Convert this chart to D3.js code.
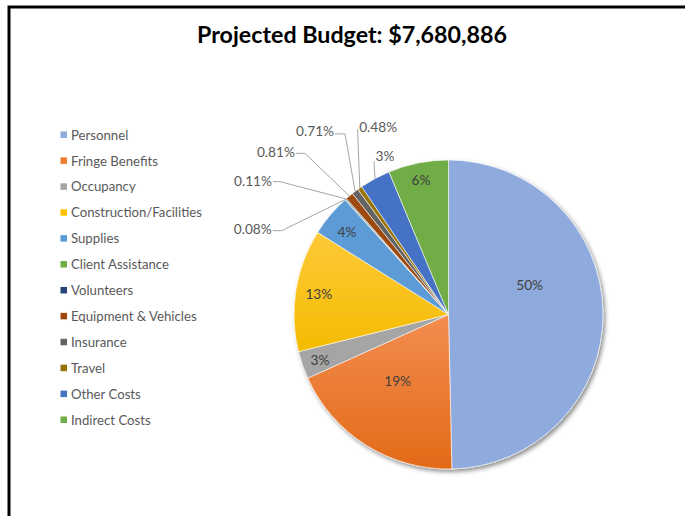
<!DOCTYPE html>
<html><head><meta charset="utf-8">
<script src="https://cdn.jsdelivr.net/npm/d3@7"></script>
<style>html,body{margin:0;padding:0;background:#fff;overflow:hidden}</style>
</head><body><svg id="c" width="685" height="516"></svg>
<script>
const title = "Projected Budget: $7,680,886";
const categories = ["Personnel","Fringe Benefits","Occupancy","Construction/Facilities","Supplies","Client Assistance","Volunteers","Equipment & Vehicles","Insurance","Travel","Other Costs","Indirect Costs"];
const values = [49.7, 18.6, 2.9, 12.8, 4.4, 0.08, 0.11, 0.81, 0.71, 0.48, 3.2, 6.3];
const colors = ["#8FAADC","#ED7D31","#A5A5A5","#FFC000","#5B9BD5","#70AD47","#264478","#9E480E","#636363","#997300","#4472C4","#70AD47"];
const gradients = {1:["#F38D4F","#E26A18"], 3:["#FFC93A","#F3BC00"]};

// label layout: inside labels [radius factor, position within slice]
const insideLayout = {0:[0.56,0.39], 1:[0.54,0.58], 2:[0.88,0.5], 3:[0.85,0.5], 4:[0.85,0.46], 11:[0.89,0.49]};
// outside labels [elbow angle deg, elbow distance factor, segment, anchor, dy]
const outsideLayout = {5:[296.7,1.208,9,"end",-2], 6:[308.25,1.389,7,"end",-1], 7:[318.3,1.397,9,"end",-1.5], 8:[330.2,1.347,10,"end",-3], 9:[333.9,1.337,0,"start",-2.5], 10:[334.1,1.104,0,"start",-6]};

const FONT = "Lato, 'Open Sans', sans-serif";
const svg = d3.select("#c");
const W = 685, H = 516;
svg.append("rect").attr("width",W).attr("height",H).attr("fill","#fff");

// frame
svg.append("path").attr("d",`M9,${H+5}V7H${W+5}`).attr("fill","none").attr("stroke","#000").attr("stroke-width",3);

// title
const t = svg.append("text").attr("x",352).attr("y",43).attr("text-anchor","middle")
  .attr("font-family",FONT).attr("font-weight","bold").attr("font-size",20).attr("fill","#000").text(title);
{ const w = t.node().getComputedTextLength(); t.attr("font-size", 20*310/w); }

const total = d3.sum(values);
const fmt = v => { const p = v/total*100; return p < 1 ? p.toFixed(2)+"%" : Math.round(p)+"%"; };
const pctLabels = values.map(fmt);

// legend
const lg = svg.append("g");
const rowY = d3.scalePoint().domain(d3.range(categories.length)).range([135, 420]);
const items = lg.selectAll("g").data(categories).join("g").attr("transform",(d,i)=>`translate(0,${rowY(i)})`);
items.append("rect").attr("x",60.5).attr("y",-3.5).attr("width",6.5).attr("height",6.5).attr("fill",(d,i)=>colors[i]);
const lt = items.append("text").attr("x",71).attr("dy","0.35em").attr("font-family",FONT).attr("font-size",12).attr("fill","#595959").text(d=>d);
{ const w = lt.filter((d,i)=>i===3).node().getComputedTextLength(); lt.attr("font-size", 12*131/w); }

// pie
const cx = 448.5, cy = 314.5, R = 154.5;
const defs = svg.append("defs");
const f = defs.append("filter").attr("id","sh").attr("x","-20%").attr("y","-20%").attr("width","140%").attr("height","140%");
f.append("feDropShadow").attr("dx",2).attr("dy",2.5).attr("stdDeviation",2.2).attr("flood-color","#000").attr("flood-opacity",0.45);
Object.entries(gradients).forEach(([i,c])=>{
  const g = defs.append("linearGradient").attr("id","g"+i).attr("x1",0).attr("y1",0).attr("x2",0).attr("y2",1);
  g.append("stop").attr("offset","0%").attr("stop-color",c[0]);
  g.append("stop").attr("offset","100%").attr("stop-color",c[1]);
});
const pie = d3.pie().sort(null).value(d=>d);
const arcs = pie(values);
const arc = d3.arc().innerRadius(0).outerRadius(R);
const pg = svg.append("g").attr("transform",`translate(${cx},${cy})`);
pg.append("g").attr("filter","url(#sh)").selectAll("path").data(arcs).join("path")
  .attr("d",arc).attr("fill",(d,i)=>gradients[i]?`url(#g${i})`:colors[i])
  .attr("stroke","#fff").attr("stroke-width",0.6);

const polar = (a, r) => [r*Math.sin(a), -r*Math.cos(a)];
const lblSize = 12.5;
// inside labels
const inl = pg.append("g");
Object.entries(insideLayout).forEach(([i,[rf,fr]])=>{
  const d = arcs[i];
  const a = d.startAngle + (d.endAngle-d.startAngle)*fr;
  const [x,y] = polar(a, R*rf);
  inl.append("text").attr("x",x).attr("y",y).attr("text-anchor","middle").attr("dominant-baseline","central")
    .attr("font-family",FONT).attr("font-size",lblSize).attr("fill","#404040").text(pctLabels[i]);
});
// outside labels
const outl = pg.append("g");
Object.entries(outsideLayout).forEach(([i,[ang,df,seg,anchor,dy]])=>{
  const d = arcs[i];
  const mid = (d.startAngle+d.endAngle)/2;
  const [px,py] = polar(mid, R);
  const [ex,ey] = polar(ang*Math.PI/180, R*df);
  const pts = [[px,py],[ex,ey]];
  if (seg>0) pts.push([ex-seg,ey]);
  outl.append("path").attr("d",d3.line()(pts)).attr("fill","none").attr("stroke","#A6A6A6").attr("stroke-width",1);
  const tx = anchor==="end" ? ex-seg-1 : ex+1.5;
  outl.append("text").attr("x",tx).attr("y",ey+dy).attr("text-anchor",anchor).attr("dominant-baseline","central")
    .attr("font-family",FONT).attr("font-size",lblSize).attr("fill","#595959").text(pctLabels[i]);
});
// fit label font size to reference width of "0.08%" (~38px)
{ const n = outl.selectAll("text").filter(function(){return this.textContent==="0.08%";}).node();
  const w = n.getComputedTextLength(); const s = lblSize*38/w;
  pg.selectAll("text").attr("font-size", s); }
</script></body></html>
